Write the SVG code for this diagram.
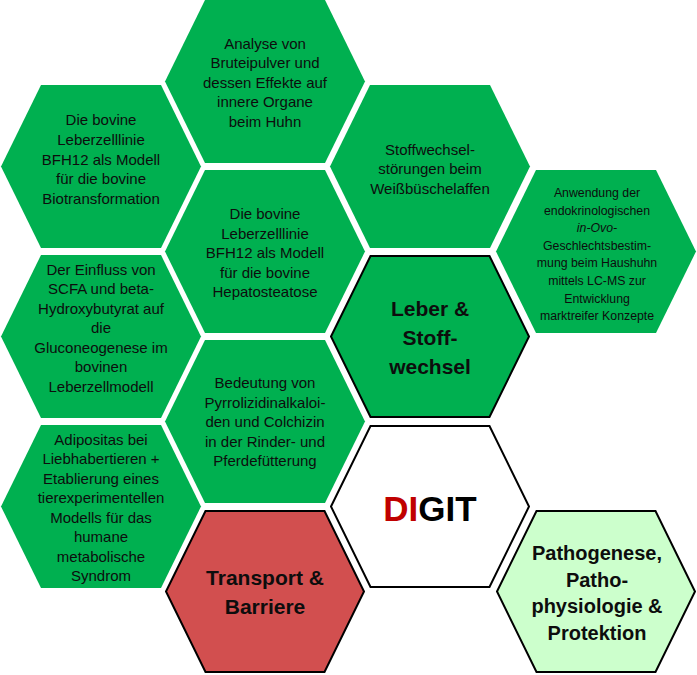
<svg xmlns="http://www.w3.org/2000/svg" xmlns:xlink="http://www.w3.org/1999/xlink" width="697" height="675" viewBox="0 0 697 675">
<defs>
<polygon id="hex" points="-100,0 -60,-81.5 60,-81.5 100,0 60,81.5 -60,81.5"/>
<polygon id="hexo" points="-99,0 -59.5,-80.5 59.5,-80.5 99,0 59.5,80.5 -59.5,80.5"/>
</defs>
<style>
.g{fill:#00B050}
.r{fill:#D24F4F;stroke:#000;stroke-width:2}
.lg{fill:#CCFFCC;stroke:#000;stroke-width:2}
.w{fill:#FFFFFF;stroke:#000;stroke-width:2}
.gb{fill:#00B050;stroke:#000;stroke-width:2}
text{font-family:"Liberation Sans",Arial,sans-serif;fill:#0D0D0D;text-anchor:middle}
.t{font-size:15px}
.s{font-size:12.3px}
.b{font-size:21px;font-weight:bold}
.b2{font-size:20px;font-weight:bold}
.d{font-size:35px;font-weight:bold}
</style>
<rect width="697" height="675" fill="#FFFFFF"/>
<g id="connectors"/>
<g id="n1">
<use xlink:href="#hex" href="#hex" class="g" x="265" y="81.5"/>
<text class="t" x="265" y="48.5">Analyse von</text>
<text class="t" x="265" y="68">Bruteipulver und</text>
<text class="t" x="265" y="87.5">dessen Effekte auf</text>
<text class="t" x="265" y="107">innere Organe</text>
<text class="t" x="265" y="126.5">beim Huhn</text>
</g>
<g id="n2">
<use xlink:href="#hex" href="#hex" class="g" x="101" y="166.5"/>
<text class="t" x="101" y="125">Die bovine</text>
<text class="t" x="101" y="144.8">Leberzelllinie</text>
<text class="t" x="101" y="164.5">BFH12 als Modell</text>
<text class="t" x="101" y="184.3">für die bovine</text>
<text class="t" x="101" y="204">Biotransformation</text>
</g>
<g id="n3">
<use xlink:href="#hex" href="#hex" class="g" x="430" y="166.5"/>
<text class="t" x="430" y="154.5">Stoffwechsel-</text>
<text class="t" x="430" y="174">störungen beim</text>
<text class="t" x="430" y="193.5">Weißbüschelaffen</text>
</g>
<g id="n4">
<use xlink:href="#hex" href="#hex" class="g" x="265" y="251.5"/>
<text class="t" x="265" y="219">Die bovine</text>
<text class="t" x="265" y="238.5">Leberzelllinie</text>
<text class="t" x="265" y="258">BFH12 als Modell</text>
<text class="t" x="265" y="277.5">für die bovine</text>
<text class="t" x="265" y="297">Hepatosteatose</text>
</g>
<g id="n5">
<use xlink:href="#hex" href="#hex" class="g" x="596" y="251.5"/>
<text class="s" x="597" y="197">Anwendung  der</text>
<text class="s" x="597" y="214.6">endokrinologischen</text>
<text class="s" x="597" y="232.2" font-style="italic">in-Ovo-</text>
<text class="s" x="597" y="249.8">Geschlechtsbestim-</text>
<text class="s" x="597" y="267.4">mung beim Haushuhn</text>
<text class="s" x="597" y="285">mittels LC-MS zur</text>
<text class="s" x="597" y="302.6">Entwicklung</text>
<text class="s" x="597" y="320.2">marktreifer Konzepte</text>
</g>
<g id="n6">
<use xlink:href="#hex" href="#hex" class="g" x="101" y="336.5"/>
<text class="t" x="101" y="274.5">Der Einfluss von</text>
<text class="t" x="101" y="294">SCFA und beta-</text>
<text class="t" x="101" y="313.5">Hydroxybutyrat auf</text>
<text class="t" x="101" y="333">die</text>
<text class="t" x="101" y="352.5">Gluconeogenese im</text>
<text class="t" x="101" y="372">bovinen</text>
<text class="t" x="101" y="391.5">Leberzellmodell</text>
</g>
<g id="n7">
<use xlink:href="#hexo" href="#hexo" class="gb" x="430" y="336.5"/>
<text class="b" x="430" y="316">Leber &amp;</text>
<text class="b" x="430" y="345">Stoff-</text>
<text class="b" x="430" y="374">wechsel</text>
</g>
<g id="n8">
<use xlink:href="#hex" href="#hex" class="g" x="265" y="421.5"/>
<text class="t" x="265" y="388">Bedeutung von</text>
<text class="t" x="265" y="407.5">Pyrrolizidinalkaloi-</text>
<text class="t" x="265" y="427">den und Colchizin</text>
<text class="t" x="265" y="446.5">in der Rinder- und</text>
<text class="t" x="265" y="466">Pferdefütterung</text>
</g>
<g id="n9">
<use xlink:href="#hex" href="#hex" class="g" x="101" y="506.5"/>
<text class="t" x="101" y="444.5">Adipositas bei</text>
<text class="t" x="101" y="464">Liebhabertieren +</text>
<text class="t" x="101" y="483.5">Etablierung eines</text>
<text class="t" x="101" y="503">tierexperimentellen</text>
<text class="t" x="101" y="522.5">Modells für das</text>
<text class="t" x="101" y="542">humane</text>
<text class="t" x="101" y="561.5">metabolische</text>
<text class="t" x="101" y="581">Syndrom</text>
</g>
<g id="n10">
<use xlink:href="#hexo" href="#hexo" class="w" x="430" y="506.5"/>
<text class="d" x="430" y="520.5"><tspan fill="#C00000">DI</tspan><tspan fill="#000000">GIT</tspan></text>
</g>
<g id="n11">
<use xlink:href="#hexo" href="#hexo" class="lg" x="596" y="591.5"/>
<text class="b2" x="597" y="560">Pathogenese,</text>
<text class="b2" x="597" y="586.7">Patho-</text>
<text class="b2" x="597" y="613.3">physiologie &amp;</text>
<text class="b2" x="597" y="640">Protektion</text>
</g>
<g id="n12">
<use xlink:href="#hexo" href="#hexo" class="r" x="265" y="591.5"/>
<text class="b" x="265" y="585">Transport &amp;</text>
<text class="b" x="265" y="614">Barriere</text>
</g>
</svg>
